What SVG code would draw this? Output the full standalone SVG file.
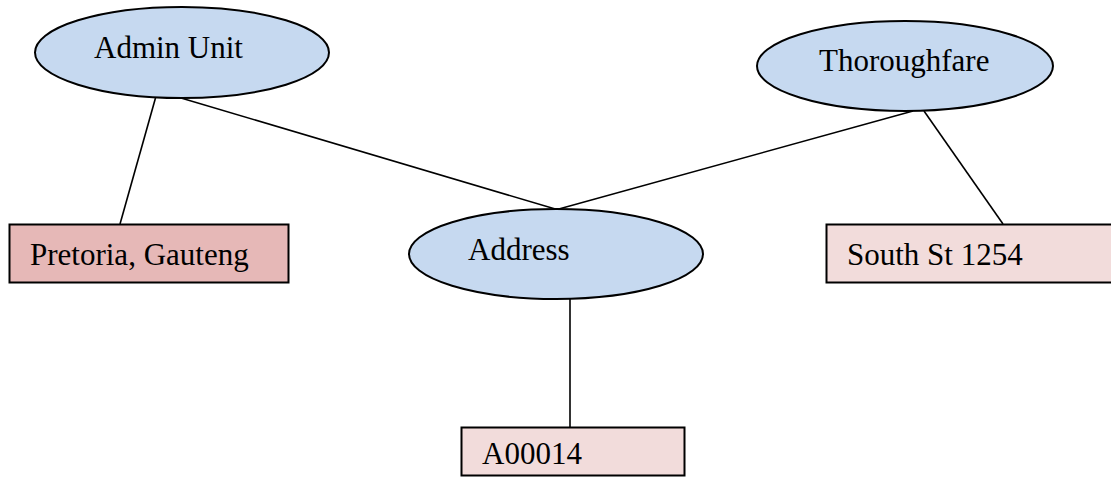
<svg xmlns="http://www.w3.org/2000/svg" width="1111" height="477" viewBox="0 0 1111 477">
<style>
.ent{fill:#c6d9f0;stroke:#000;stroke-width:2}
.val{stroke:#000;stroke-width:2}
.lbl{font-family:"Liberation Serif","Times New Roman",serif;font-size:31px;fill:#000}
.conn line{stroke:#000;stroke-width:1.6}
</style>
<rect width="1111" height="477" fill="#fff"/>
<g id="connectors" class="conn">
<line x1="155.5" y1="98" x2="120" y2="224"/>
<line x1="181" y1="98" x2="557" y2="209.5"/>
<line x1="913" y1="111" x2="557" y2="209.5"/>
<line x1="924" y1="111" x2="1003" y2="224"/>
<line x1="570" y1="299" x2="570" y2="427"/>
</g>
<g id="admin-unit">
<ellipse class="ent" cx="182" cy="52.5" rx="147" ry="45.5"/>
<text class="lbl" x="94" y="58">Admin Unit</text>
</g>
<g id="thoroughfare">
<ellipse class="ent" cx="905" cy="66" rx="148" ry="45"/>
<text class="lbl" x="819" y="71">Thoroughfare</text>
</g>
<g id="address">
<ellipse class="ent" cx="556" cy="254" rx="147" ry="45"/>
<text class="lbl" x="468" y="260">Address</text>
</g>
<g id="pretoria">
<rect class="val" x="9.5" y="224.5" width="279" height="58" fill="#e6b8b7"/>
<text class="lbl" x="30" y="265">Pretoria, Gauteng</text>
</g>
<g id="south-st">
<rect class="val" x="826.5" y="224.5" width="290" height="58" fill="#f2dcdb"/>
<text class="lbl" x="847" y="265">South St 1254</text>
</g>
<g id="a00014">
<rect class="val" x="461.5" y="427.5" width="223" height="48" fill="#f2dcdb"/>
<text class="lbl" x="482" y="464">A00014</text>
</g>
</svg>
